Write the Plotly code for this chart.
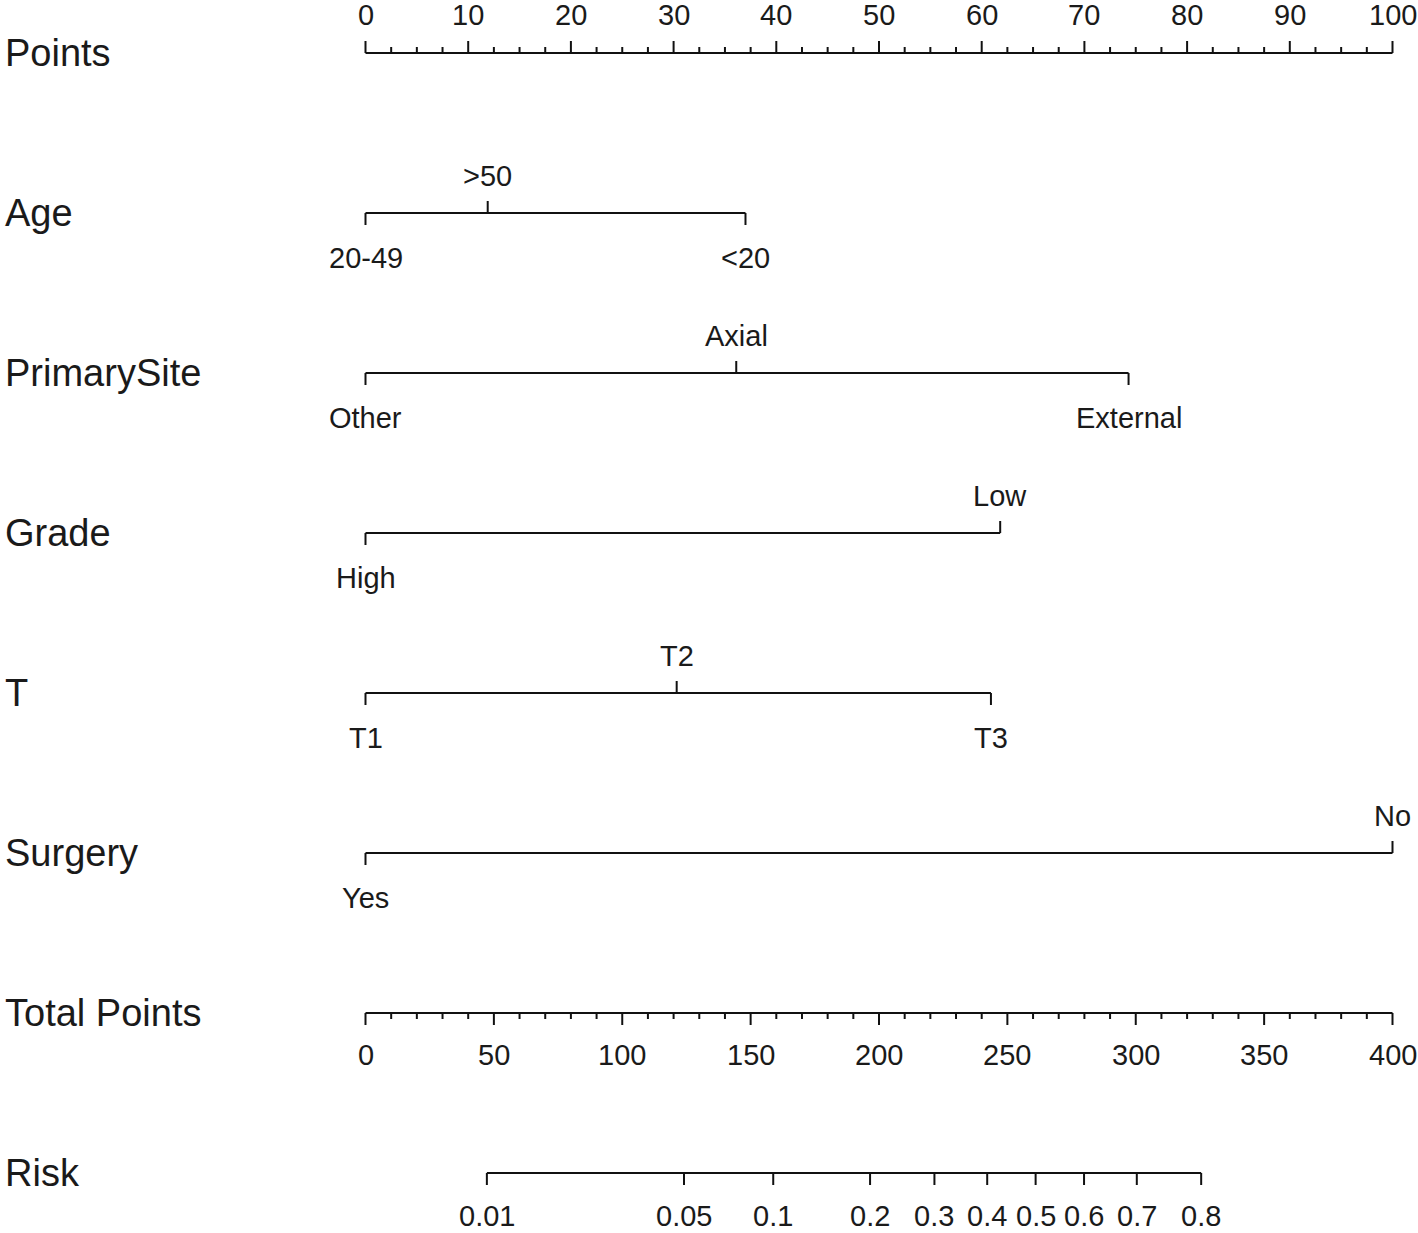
import numpy as np
import plotly.graph_objects as go

# ---------------- data ----------------
row_names = ["Points", "Age", "PrimarySite", "Grade", "T", "Surgery", "Total Points", "Risk"]

points_ticks = [0, 10, 20, 30, 40, 50, 60, 70, 80, 90, 100]
points_minor_step = 2.5

age_levels = ["20-49", ">50", "<20"]
age_points = [0, 11.9, 37.0]

site_levels = ["Other", "Axial", "External"]
site_points = [0, 36.1, 74.3]

grade_levels = ["High", "Low"]
grade_points = [0, 61.8]

t_levels = ["T1", "T2", "T3"]
t_points = [0, 30.3, 60.9]

surgery_levels = ["Yes", "No"]
surgery_points = [0, 100]

total_ticks = [0, 50, 100, 150, 200, 250, 300, 350, 400]
total_minor_step = 10
total_max = 400

risk_ticks = [0.01, 0.05, 0.1, 0.2, 0.3, 0.4, 0.5, 0.6, 0.7, 0.8]
risk_tick_labels = ["0.01", "0.05", "0.1", "0.2", "0.3", "0.4", "0.5", "0.6", "0.7", "0.8"]
risk_center_total = 261.0   # total points where risk = 0.5
risk_slope = 0.0215         # logit per total point

# ---------------- styling ----------------
LINE = "#111111"
TXT = "#1a1a1a"
FONT = "Liberation Sans, Arial, sans-serif"
ROW_FS = 38
TICK_FS = 29
PX_PER_ROW = 160.0
def dy(px):
    return px / PX_PER_ROW

MAJ = dy(12)
MIN = dy(6)

fig = go.Figure()
annotations = []

def add_segments(xs_list, ys_list):
    xs, ys = [], []
    for xx, yy in zip(xs_list, ys_list):
        xs += list(xx) + [None]
        ys += list(yy) + [None]
    fig.add_trace(go.Scatter(x=xs, y=ys, mode="lines",
                             line=dict(color=LINE, width=2),
                             hoverinfo="skip", showlegend=False, cliponaxis=False))

def label(x, y, text, yshift, size=TICK_FS):
    annotations.append(dict(x=x, y=y, xref="x", yref="y", text=text, showarrow=False,
                            yshift=yshift, xanchor="center", yanchor="middle",
                            font=dict(family=FONT, size=size, color=TXT)))

# row labels
for i, name in enumerate(row_names):
    annotations.append(dict(x=0.0, y=i, xref="paper", yref="y", text=name, showarrow=False,
                            xanchor="left", yanchor="middle", xshift=3,
                            font=dict(family=FONT, size=ROW_FS, color=TXT)))

# Points axis (row 0): line with ticks up, labels above
r = 0
segs_x = [[0, 100]]
segs_y = [[r, r]]
minor_vals = np.arange(0, 100 + 1e-9, points_minor_step)
for v in minor_vals:
    is_major = any(abs(v - t) < 1e-9 for t in points_ticks)
    segs_x.append([v, v])
    segs_y.append([r, r - (MAJ if is_major else MIN)])
add_segments(segs_x, segs_y)
for t in points_ticks:
    label(t, r, str(t), 38)

# Categorical variables
def cat_row(r, levels, pts):
    order = np.argsort(pts, kind="stable")
    sx = [[min(pts), max(pts)]]
    sy = [[r, r]]
    for k, idx in enumerate(order):
        above = (k % 2 == 1)
        p = pts[idx]
        sx.append([p, p])
        sy.append([r, r - MAJ] if above else [r, r + MAJ])
        label(p, r, levels[idx], 37 if above else -45)
    add_segments(sx, sy)

cat_row(1, age_levels, age_points)
cat_row(2, site_levels, site_points)
cat_row(3, grade_levels, grade_points)
cat_row(4, t_levels, t_points)
cat_row(5, surgery_levels, surgery_points)

# Total points axis (row 6): ticks down, labels below
r = 6
scale = 100.0 / total_max
sx = [[0, 100]]
sy = [[r, r]]
for v in np.arange(0, total_max + 1e-9, total_minor_step):
    is_major = any(abs(v - t) < 1e-9 for t in total_ticks)
    sx.append([v * scale, v * scale])
    sy.append([r, r + (MAJ if is_major else MIN)])
add_segments(sx, sy)
for t in total_ticks:
    label(t * scale, r, str(t), -42)

# Risk axis (row 7)
r = 7
risk_tot = [risk_center_total + np.log(p / (1 - p)) / risk_slope for p in risk_ticks]
risk_x = [v * scale for v in risk_tot]
sx = [[risk_x[0], risk_x[-1]]]
sy = [[r, r]]
for x in risk_x:
    sx.append([x, x])
    sy.append([r, r + MAJ])
add_segments(sx, sy)
for x, lab in zip(risk_x, risk_tick_labels):
    label(x, r, lab, -43)

# ---------------- layout ----------------
W, H = 1418, 1233
px0, px100 = 365.5, 1392.5
ppp = (px100 - px0) / 100.0
x_lo = -px0 / ppp
x_hi = 100 + (W - px100) / ppp
row0_px = 53
y_top = -row0_px / PX_PER_ROW
y_bot = (H - row0_px) / PX_PER_ROW

fig.update_layout(
    width=W, height=H,
    margin=dict(l=0, r=0, t=0, b=0),
    paper_bgcolor="white", plot_bgcolor="white",
    xaxis=dict(range=[x_lo, x_hi], visible=False, fixedrange=True),
    yaxis=dict(range=[y_bot, y_top], visible=False, fixedrange=True),
    annotations=annotations,
    showlegend=False,
)

fig.write_html(
    "out.html",
    config={"displayModeBar": False, "staticPlot": True},
    post_script="document.body.style.margin='0px';document.body.style.overflow='hidden';",
)
